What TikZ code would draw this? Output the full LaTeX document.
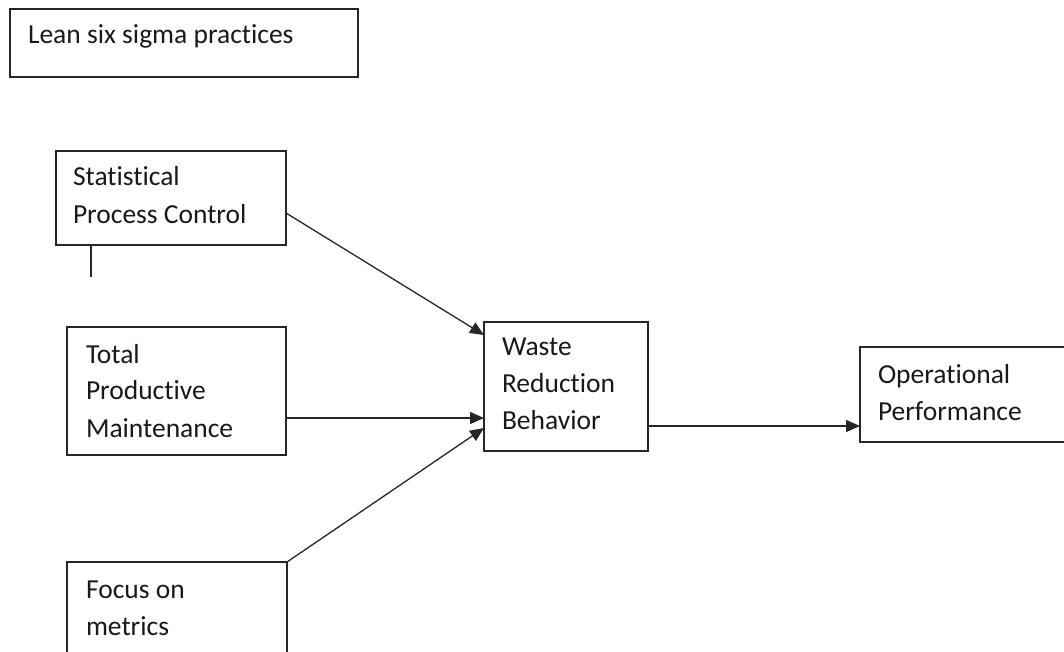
\documentclass[tikz,border=0pt]{standalone}
\usepackage{fontspec}
\setmainfont[Ligatures={NoCommon,NoContextual,NoRequired}]{Carlito}
\usetikzlibrary{arrows.meta}
\begin{document}
\begin{tikzpicture}[x=1pt,y=-1pt,
  box/.style={draw=black!85,line width=1.3pt,rectangle,inner sep=0pt,outer sep=0pt},
  txt/.style={anchor=base west,inner sep=0pt,outer sep=0pt,text=black!90,font=\fontsize{27.5}{37}\selectfont},
  conn/.style={draw=black!85,line width=1.3pt},
  arr/.style={conn,-{Triangle[length=14pt,width=12pt]}}]
\clip (0,0) rectangle (1064,651);
\fill[white] (0,0) rectangle (1064,651);
% boxes
\node[box,minimum width=348pt,minimum height=68pt] (lean) at (184,43) {};
\node[box,minimum width=230pt,minimum height=94pt] (spc) at (171,198) {};
\node[box,minimum width=219pt,minimum height=128pt] (tpm) at (176.5,391) {};
\node[box,minimum width=220pt,minimum height=110pt] (fom) at (177,617) {};
\node[box,minimum width=164pt,minimum height=129pt] (wrb) at (566,386.5) {};
\node[box,minimum width=210pt,minimum height=95pt] (op) at (965,394.5) {};
% texts
\node[txt] (t1) at (28,43) {Lean six sigma practices};
\node[txt] (t2) at (73,185) {Statistical};
\node[txt] (t3) at (73,223) {Process Control};
\node[txt] (t4) at (86,363) {Total};
\node[txt] (t5) at (86,399) {Productive};
\node[txt] (t6) at (86,437) {Maintenance};
\node[txt] (t7) at (86,598) {Focus on};
\node[txt] (t8) at (86,635) {metrics};
\node[txt] (t9) at (502,355) {Waste};
\node[txt] (t10) at (502,392) {Reduction};
\node[txt] (t11) at (502,429) {Behavior};
\node[txt] (t12) at (878,383) {Operational};
\node[txt] (t13) at (878,420) {Performance};
% connectors
\draw[arr] ([yshift=-15pt]spc.east) -- ([yshift=-13pt]wrb.north west);
\draw[arr] ([yshift=-27pt]tpm.east) -- ([yshift=-27pt]tpm.east -| wrb.west);
\draw[arr] (fom.north east) -- ([yshift=-41.5pt]wrb.west);
\draw[arr] ([yshift=-39.5pt]wrb.east) -- ([yshift=-39.5pt]wrb.east -| op.west);
\coordinate (stub) at ([xshift=35pt,yshift=-32pt]spc.south west);
\draw[conn] ([xshift=35pt]spc.south west) -- (stub);
\end{tikzpicture}
\end{document}
